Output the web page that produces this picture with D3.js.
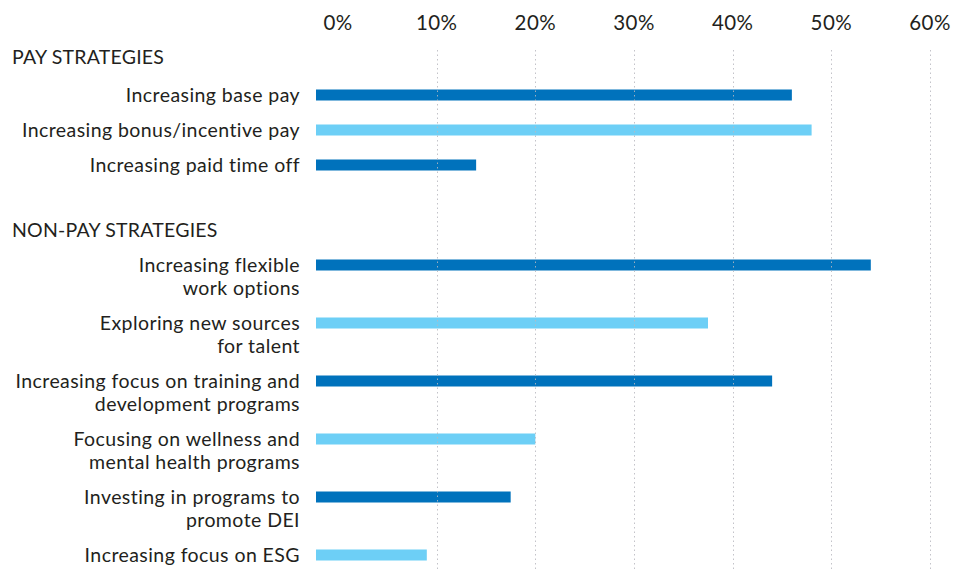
<!DOCTYPE html>
<html>
<head>
<meta charset="utf-8">
<script src="https://cdn.jsdelivr.net/npm/d3@7"></script>
<style>
  html, body { margin: 0; padding: 0; background: #fff; }
  svg { display: block; }
  text { font-family: Lato, "Open Sans", sans-serif; fill: #231f20; }
</style>
</head>
<body>
<svg id="chart" width="954" height="571"></svg>
<script>
// ---- data ----
const groups = ["PAY STRATEGIES", "NON-PAY STRATEGIES"];
const categories = [
  "Increasing base pay",
  "Increasing bonus/incentive pay",
  "Increasing paid time off",
  "Increasing flexible\nwork options",
  "Exploring new sources\nfor talent",
  "Increasing focus on training and\ndevelopment programs",
  "Focusing on wellness and\nmental health programs",
  "Investing in programs to\npromote DEI",
  "Increasing focus on ESG"
];
const categoryGroup = [0, 0, 0, 1, 1, 1, 1, 1, 1];
const values = [46, 48, 14, 54, 37.5, 44, 20, 17.5, 9];
const tickValues = [0, 10, 20, 30, 40, 50, 60];
const tickLabels = ["0%", "10%", "20%", "30%", "40%", "50%", "60%"];
const barColors = ["#0072bc", "#6dcff6"];

// ---- layout ----
const W = 954, H = 571;
const svg = d3.select("#chart");
const labelRight = 300;
const barInset = 22;
const barH = 11;
const lineH = 23;
const headGap = [38, 35];

const x = d3.scaleLinear().domain([0, 60]).range([338, 930]);

// font sizing + letter spacing to match label width
const refLabel = "Increasing bonus/incentive pay";
const fs = 19.5;
const probe = svg.append("text").attr("font-size", fs).text(refLabel);
const wRef = probe.node().getComputedTextLength();
probe.remove();
const ls = Math.max(0, (278 - wRef) / (refLabel.length - 1));

// vertical positions
const headingY = [];
const rowY = [];
const rowInGroup = [];
let cur = 57;
let k = 0;
categories.forEach((c, i) => {
  const g = categoryGroup[i];
  if (i === 0 || categoryGroup[i - 1] !== g) {
    if (i !== 0) cur += 65;
    headingY[g] = cur;
    cur += headGap[g];
    k = 0;
  } else {
    const prevLines = categories[i - 1].split("\n").length;
    cur += prevLines * lineH + 12;
    k++;
  }
  rowY.push(cur);
  rowInGroup.push(k);
});
const y = d3.scaleOrdinal().domain(categories).range(rowY);

// ---- bars ----
svg.append("g").selectAll("rect")
  .data(categories)
  .join("rect")
  .attr("x", x(0) - barInset)
  .attr("y", d => y(d) - barH / 2)
  .attr("width", (d, i) => x(values[i]) - x(0) + barInset)
  .attr("height", barH)
  .attr("fill", (d, i) => barColors[rowInGroup[i] % 2]);

// ---- gridlines ----
svg.append("g").selectAll("line")
  .data(tickValues.filter(v => v > 0))
  .join("line")
  .attr("x1", d => Math.round(x(d)) + 0.5)
  .attr("x2", d => Math.round(x(d)) + 0.5)
  .attr("y1", 50)
  .attr("y2", H)
  .attr("stroke", "#b8b8c0")
  .attr("stroke-opacity", 0.85)
  .attr("stroke-width", 1)
  .attr("stroke-dasharray", "1.5,3");

// ---- tick labels ----
svg.append("g").selectAll("text")
  .data(tickValues)
  .join("text")
  .attr("x", d => x(d))
  .attr("y", 30)
  .attr("text-anchor", "middle")
  .attr("font-size", 20.5)
  .attr("letter-spacing", ls)
  .text((d, i) => tickLabels[i]);

// ---- group headings ----
svg.append("g").selectAll("text")
  .data(groups)
  .join("text")
  .attr("x", 12)
  .attr("y", (d, i) => headingY[i] + fs * 0.36)
  .attr("font-size", fs)
  .attr("letter-spacing", ls * 0.5)
  .text(d => d);

// ---- category labels ----
const lab = svg.append("g").selectAll("text")
  .data(categories)
  .join("text")
  .attr("text-anchor", "end")
  .attr("font-size", fs)
  .attr("letter-spacing", ls);
lab.selectAll("tspan")
  .data(d => d.split("\n").map((line, i) => ({ line, i, key: d })))
  .join("tspan")
  .attr("x", labelRight)
  .attr("y", t => y(t.key) + fs * 0.36 + t.i * lineH)
  .text(t => t.line);
</script>
</body>
</html>
